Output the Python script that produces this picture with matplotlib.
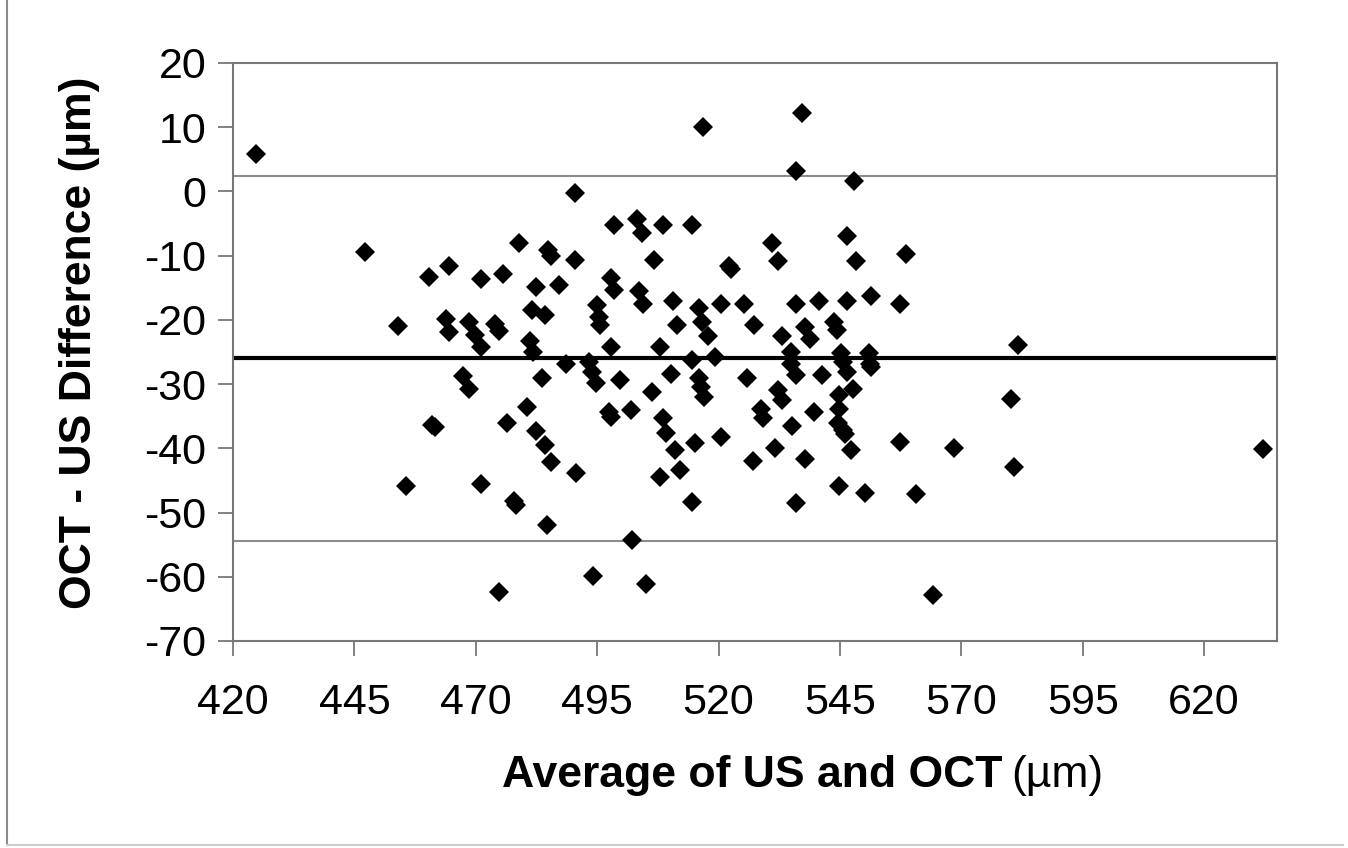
import matplotlib
matplotlib.use("Agg")
import matplotlib.pyplot as plt
from matplotlib.lines import Line2D

plt.rcParams['font.family'] = ['Liberation Sans', 'DejaVu Sans']
plt.rcParams['axes.unicode_minus'] = False

# Average of US and OCT (µm)
avg_um = [
    424.7, 490.4, 447.2, 478.8, 484.9, 485.4, 490.4, 460.3, 464.4, 471.0,
    475.7, 482.3, 487.1, 453.9, 463.8, 464.4, 468.7, 469.9, 471.1, 474.0,
    474.7, 481.5, 484.3, 481.2, 481.7, 488.5,
    467.3, 468.7, 483.6, 480.6, 476.5, 461.6, 461.0, 482.3, 484.3, 485.4,
    490.6, 455.6, 471.0, 477.9, 478.2, 484.7, 474.7,
    516.8, 537.1, 535.9, 547.8, 498.4, 503.2, 504.2, 508.5, 514.5, 531.1,
    532.3, 546.5, 548.4, 558.5, 506.8, 522.6, 522.2, 497.9, 498.4, 503.6,
    504.4, 510.6, 494.9, 495.4, 495.6, 515.9, 516.6, 517.9, 511.4, 520.5,
    525.2, 527.3, 535.9, 540.7, 537.8, 538.8, 543.7, 544.4, 546.5, 551.3,
    557.3, 533.0, 497.9, 508.0, 493.3, 514.5, 519.3, 535.0, 535.0, 545.3,
    545.6, 550.9, 551.1,
    494.0, 494.8, 499.6, 506.2, 510.3, 515.9, 516.4, 516.9, 525.8, 535.9,
    541.2, 546.5, 551.4, 547.7, 497.5, 497.9, 502.0, 508.5, 509.2, 508.0,
    511.0, 512.1, 515.1, 520.5, 514.5, 528.7, 529.2, 532.2, 533.0, 527.0,
    531.7, 535.2, 537.8, 535.9, 539.6, 544.7, 544.7, 544.5, 545.7, 546.1,
    547.2, 544.8, 550.1, 557.3, 560.7, 502.1, 494.2, 505.0,
    581.6, 580.2, 568.5, 580.9, 564.1, 632.2,
]

# OCT - US difference (µm)
diff_um = [
    5.8, -0.2, -9.5, -8.1, -9.1, -10.0, -10.7, -13.3, -11.6, -13.6,
    -12.8, -14.9, -14.6, -20.9, -19.8, -21.9, -20.3, -22.4, -24.2, -20.6,
    -21.7, -18.4, -19.3, -23.3, -25.0, -26.8,
    -28.8, -30.7, -29.0, -33.6, -36.1, -36.7, -36.3, -37.3, -39.5, -42.1,
    -43.8, -45.8, -45.5, -48.2, -48.8, -51.9, -62.4,
    10.0, 12.2, 3.2, 1.6, -5.2, -4.3, -6.4, -5.2, -5.2, -8.0,
    -10.8, -6.9, -10.8, -9.8, -10.7, -12.0, -11.6, -13.5, -15.4, -15.5,
    -17.5, -17.0, -17.7, -19.5, -20.8, -18.2, -20.3, -22.5, -20.8, -17.5,
    -17.5, -20.8, -17.5, -17.0, -21.1, -23.0, -20.4, -21.5, -17.0, -16.3,
    -17.5, -22.5, -24.2, -24.2, -26.5, -26.3, -25.8, -25.0, -26.8, -25.2,
    -26.5, -25.2, -26.8,
    -28.1, -29.9, -29.4, -31.2, -28.5, -29.1, -30.4, -32.0, -29.0, -28.6,
    -28.6, -28.1, -27.3, -30.7, -34.3, -35.1, -34.0, -35.2, -37.6, -44.4,
    -40.3, -43.3, -39.1, -38.2, -48.4, -33.8, -35.3, -30.9, -32.4, -41.9,
    -40.0, -36.5, -41.6, -48.5, -34.4, -31.7, -33.8, -36.0, -37.1, -37.7,
    -40.3, -45.8, -47.0, -39.0, -47.1, -54.3, -59.9, -61.2,
    -23.9, -32.3, -40.0, -42.9, -62.9, -40.1,
]

mean_diff = -26.0
upper_loa = 2.4
lower_loa = -54.4

x_ticks = [420, 445, 470, 495, 520, 545, 570, 595, 620]
y_ticks = [20, 10, 0, -10, -20, -30, -40, -50, -60, -70]

W, H = 1348, 848
fig = plt.figure(figsize=(W / 100, H / 100), dpi=100)
fig.patch.set_facecolor('white')

ax = fig.add_axes([233 / W, 1 - 641 / H, (1277 - 233) / W, (641 - 63) / H])
ax.set_xlim(420, 635)
ax.set_ylim(-70, 20)

ax.axhline(upper_loa, color='#8c8c8c', lw=1.5, zorder=1)
ax.axhline(lower_loa, color='#8c8c8c', lw=1.5, zorder=1)
ax.axhline(mean_diff, color='black', lw=3.0, zorder=1)

ax.plot(avg_um, diff_um, linestyle='none', marker='D', markersize=10.5,
        color='black', markeredgewidth=0, zorder=3)

for s in ax.spines.values():
    s.set_color('#777777')
    s.set_linewidth(1.5)

ax.set_xticks(x_ticks)
ax.set_yticks(y_ticks)
ax.tick_params(axis='both', direction='out', length=11, width=1.3,
               color='#777777', labelsize=31, labelcolor='black')
ax.tick_params(axis='x', pad=19)
ax.tick_params(axis='y', pad=8)

# Axis titles
fig.text(80 / W, 1 - 343 / H, 'OCT - US Difference (µm)', rotation=90,
         ha='center', va='center', fontsize=32, fontweight='bold')
fig.text(1003 / W, 1 - 775 / H, 'Average of US and OCT', ha='right',
         va='center', fontsize=32, fontweight='bold')
fig.text(1011 / W, 1 - 775 / H, '(µm)', ha='left', va='center', fontsize=32)

# Outer frame (left and bottom borders)
fig.add_artist(Line2D([7 / W, 7 / W], [1 - 845 / H, 1.0], transform=fig.transFigure,
                      color='#8c8c8c', lw=1.5))
fig.add_artist(Line2D([7 / W, 1343 / W], [1 - 845 / H, 1 - 845 / H],
                      transform=fig.transFigure, color='#cccccc', lw=1.5))

fig.savefig('out.png', dpi=100, facecolor='white')
